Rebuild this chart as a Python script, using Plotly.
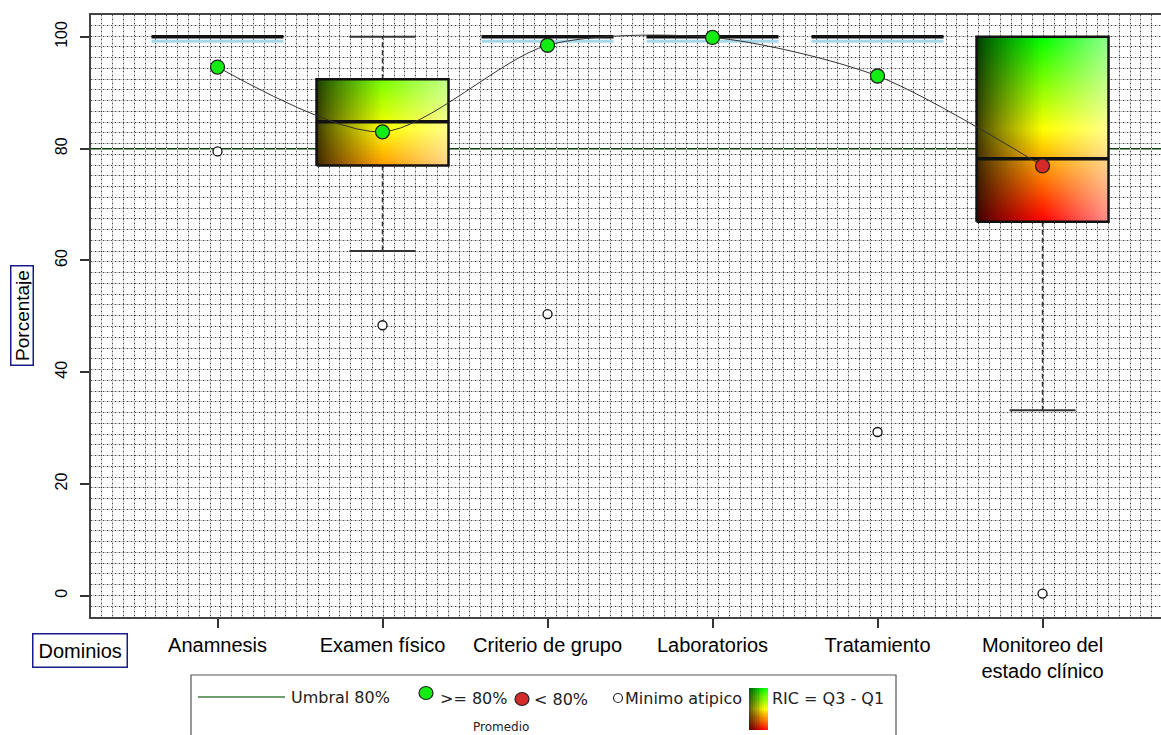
import plotly.graph_objects as go

# ---------------- data ----------------
categories = ["Anamnesis", "Examen físico", "Criterio de grupo",
              "Laboratorios", "Tratamiento", "Monitoreo del<br>estado clínico"]
q1 = [100, 77.0, 100, 100, 100, 66.9]
median = [100, 84.8, 100, 100, 100, 78.2]
q3 = [100, 92.4, 100, 100, 100, 100]
whisker_low = [100, 61.7, 100, 100, 100, 33.2]
whisker_high = [100, 100, 100, 100, 100, 100]
means = [94.6, 83.0, 98.5, 99.9, 93.0, 76.9]
outliers = [79.5, 48.4, 50.4, None, 29.3, 0.4]
threshold = 80
y_ticks = [0, 20, 40, 60, 80, 100]

# ---------------- layout helpers ----------------
W, H = 1161, 735
def px(x):
    return x / W
def py(y):
    return 1 - y / H

X_RANGE = [0.2333, 6.718]
Y_RANGE = [-3.8, 104.0]
xs = list(range(1, len(categories) + 1))
BOX_W = 0.8
CAP_W = 0.4
FONT = "Liberation Sans, Arial, sans-serif"
LFONT = "DejaVu Sans, Verdana, sans-serif"


def ramp(v):
    t = (v - 67.0) / 33.0
    t = max(0.0, min(1.0, t))
    if t < 0.5:
        return [255.0, 255.0 * t / 0.5, 0.0]
    return [255.0 * (1 - t) / 0.5, 255.0, 0.0]


def grad_color(v, s):
    c = ramp(v)
    if s < 0.5:
        f = 0.22 + 0.78 * (s / 0.5) ** 0.8
        c = [ch * f for ch in c]
    else:
        w = (s - 0.5) / 0.5 * 0.55
        c = [ch + (255 - ch) * w for ch in c]
    return [int(round(ch)) for ch in c]


fig = go.Figure()

# gradient boxes (IQR)
for i, x in enumerate(xs):
    if q3[i] > q1[i]:
        ncol = 66
        nrow = max(10, int((q3[i] - q1[i]) * 2.8))
        dx = BOX_W / ncol
        dy = (q3[i] - q1[i]) / nrow
        z = []
        for r in range(nrow):
            v = q1[i] + (r + 0.5) * dy
            z.append([grad_color(v, (c + 0.5) / ncol) for c in range(ncol)])
        fig.add_trace(go.Image(z=z, x0=x - BOX_W / 2 + dx / 2, dx=dx,
                               y0=q1[i] + dy / 2, dy=dy, hoverinfo="skip"))

# whiskers (dashed) and caps
wx, wy, cx, cy = [], [], [], []
for i, x in enumerate(xs):
    if whisker_high[i] > q3[i]:
        wx += [x, x, None]; wy += [q3[i], whisker_high[i], None]
        cx += [x - CAP_W / 2, x + CAP_W / 2, None]; cy += [whisker_high[i], whisker_high[i], None]
    if whisker_low[i] < q1[i]:
        wx += [x, x, None]; wy += [q1[i], whisker_low[i], None]
        cx += [x - CAP_W / 2, x + CAP_W / 2, None]; cy += [whisker_low[i], whisker_low[i], None]
fig.add_trace(go.Scatter(x=wx, y=wy, mode="lines", hoverinfo="skip",
                         line=dict(color="#333333", width=1.5, dash="5px,3px")))
fig.add_trace(go.Scatter(x=cx, y=cy, mode="lines", hoverinfo="skip",
                         line=dict(color="#333333", width=2)))

# box outlines
bx, by = [], []
for i, x in enumerate(xs):
    if q3[i] > q1[i]:
        l, r = x - BOX_W / 2, x + BOX_W / 2
        bx += [l, r, r, l, l, None]; by += [q1[i], q1[i], q3[i], q3[i], q1[i], None]
fig.add_trace(go.Scatter(x=bx, y=by, mode="lines", hoverinfo="skip",
                         line=dict(color="#111111", width=2.5)))

# flat boxes: light blue under-line
fx, fy = [], []
for i, x in enumerate(xs):
    if q3[i] == q1[i]:
        fx += [x - BOX_W / 2, x + BOX_W / 2, None]; fy += [q1[i] - 0.8, q1[i] - 0.8, None]
fig.add_trace(go.Scatter(x=fx, y=fy, mode="lines", hoverinfo="skip",
                         line=dict(color="#a6d8ea", width=3)))

# medians
mx, my = [], []
for i, x in enumerate(xs):
    mx += [x - BOX_W / 2, x + BOX_W / 2, None]; my += [median[i], median[i], None]
fig.add_trace(go.Scatter(x=mx, y=my, mode="lines", hoverinfo="skip",
                         line=dict(color="#111111", width=3.5)))

# mean curve
fig.add_trace(go.Scatter(x=xs, y=means, mode="lines", hoverinfo="skip",
                         line=dict(color="#333333", width=1, shape="spline", smoothing=0.8)))

# mean markers
colors = ["#12ee12" if m >= threshold else "#d42a2a" for m in means]
fig.add_trace(go.Scatter(x=xs, y=means, mode="markers", hoverinfo="skip",
                         marker=dict(size=14, color=colors, line=dict(color="#222222", width=1.3))))

# outliers
ox = [x for x, o in zip(xs, outliers) if o is not None]
oy = [o for o in outliers if o is not None]
fig.add_trace(go.Scatter(x=ox, y=oy, mode="markers", hoverinfo="skip",
                         marker=dict(size=9, color="white", line=dict(color="#111111", width=1.3))))

# grid layers (overlay axes)
fig.add_trace(go.Scatter(x=[], y=[], xaxis="x3", yaxis="y3", showlegend=False))
fig.add_trace(go.Scatter(x=[], y=[], xaxis="x4", yaxis="y4", showlegend=False))

# legend gradient swatch
nr, nc = 40, 10
lz = []
for r in range(nr):
    v = 67 + (r + 0.5) / nr * 33
    lz.append([grad_color(v, 0.05 + 0.55 * (c + 0.5) / nc) for c in range(nc)])
fig.add_trace(go.Image(z=lz, x0=0.5 / nc, dx=1.0 / nc, y0=0.5 / nr, dy=1.0 / nr,
                       xaxis="x2", yaxis="y2", hoverinfo="skip"))

# threshold line (under the boxes)
shapes = [dict(type="line", xref="x domain", yref="y", x0=0, x1=1, y0=threshold, y1=threshold,
               line=dict(color="#0a3f0a", width=1.5), layer="below")]

# legend box and symbols
shapes += [
    dict(type="rect", xref="paper", yref="paper", x0=px(191), x1=px(896), y0=py(675), y1=py(760),
         line=dict(color="#555555", width=1.2), fillcolor="rgba(0,0,0,0)"),
    dict(type="line", xref="paper", yref="paper", x0=px(198), x1=px(285), y0=py(697), y1=py(697),
         line=dict(color="#3f7f3f", width=1.5)),
    dict(type="circle", xref="paper", yref="paper", x0=px(419), x1=px(433), y0=py(699.5), y1=py(686.5),
         fillcolor="#12ee12", line=dict(color="#222222", width=1.2)),
    dict(type="circle", xref="paper", yref="paper", x0=px(515), x1=px(529), y0=py(705.5), y1=py(692.5),
         fillcolor="#d42a2a", line=dict(color="#222222", width=1.2)),
    dict(type="circle", xref="paper", yref="paper", x0=px(613.5), x1=px(622.5), y0=py(702.5), y1=py(693.5),
         fillcolor="white", line=dict(color="#222222", width=1.2)),
]

annotations = [
    dict(text="Umbral 80%", x=px(289), y=py(697)),
    dict(text=">= 80%", x=px(438), y=py(698)),
    dict(text="< 80%", x=px(532), y=py(699)),
    dict(text="Minimo atipico", x=px(623), y=py(698)),
    dict(text="RIC = Q3 - Q1", x=px(770), y=py(698)),
]
for a in annotations:
    a.update(xref="paper", yref="paper", xanchor="left", yanchor="middle", showarrow=False,
             font=dict(family=LFONT, size=16, color="#222222"))
annotations.append(dict(text="Promedio", x=px(501), y=py(727), xref="paper", yref="paper",
                        xanchor="center", yanchor="middle", showarrow=False,
                        font=dict(family=LFONT, size=12, color="#222222")))
annotations.append(dict(text="Dominios", x=px(79.5), y=py(650), xref="paper", yref="paper",
                        xanchor="center", yanchor="middle", showarrow=False,
                        font=dict(family=FONT, size=20, color="black"),
                        bordercolor="#1a1a8c", borderwidth=1.5, borderpad=5))
annotations.append(dict(text="Porcentaje", x=px(21.5), y=py(315.5), xref="paper", yref="paper",
                        xanchor="center", yanchor="middle", showarrow=False, textangle=-90,
                        font=dict(family=FONT, size=19, color="black"),
                        width=96, height=19,
                        bordercolor="#1a1a8c", borderwidth=1.5, borderpad=1))

x_dom = [px(91), 1.0]
y_dom = [py(617), py(14.5)]
grid_dx = 0.0656
grid_dy = (Y_RANGE[1] - Y_RANGE[0]) / 56

fig.update_layout(
    width=W, height=H, margin=dict(l=0, r=0, t=0, b=0),
    paper_bgcolor="white", plot_bgcolor="white", showlegend=False, hovermode=False,
    shapes=shapes, annotations=annotations,
    xaxis=dict(domain=x_dom, range=X_RANGE, anchor="y", tickmode="array", tickvals=xs,
               ticktext=categories, ticks="outside", ticklen=9, tickwidth=1.5, tickcolor="#333333",
               showline=True, mirror=True, linecolor="#444444", linewidth=2,
               showgrid=False, zeroline=False, scaleanchor=False,
               tickfont=dict(family=FONT, size=20, color="black")),
    yaxis=dict(domain=y_dom, range=Y_RANGE, anchor="x", tickmode="array", tickvals=y_ticks,
               tickangle=-90, ticks="outside", ticklen=9, tickwidth=1.5, tickcolor="#333333",
               ticklabelstandoff=7,
               showline=True, mirror=False, linecolor="#444444", linewidth=2,
               showgrid=False, zeroline=False, scaleanchor=False,
               tickfont=dict(family=FONT, size=16, color="black")),
    xaxis2=dict(domain=[px(749), px(768)], range=[0, 1], anchor="y2", visible=False, scaleanchor=False),
    yaxis2=dict(domain=[py(730), py(688)], range=[0, 1], anchor="x2", visible=False, scaleanchor=False),
    xaxis3=dict(overlaying="x", anchor="y3", range=X_RANGE, tickmode="linear", tick0=X_RANGE[0],
                dtick=grid_dx, showgrid=True, gridcolor="#c6c6c6", gridwidth=1, showticklabels=False,
                ticks="", showline=False, zeroline=False),
    yaxis3=dict(overlaying="y", anchor="x3", range=Y_RANGE, tickmode="linear", tick0=Y_RANGE[0],
                dtick=grid_dy, showgrid=True, gridcolor="#c6c6c6", gridwidth=1, showticklabels=False,
                ticks="", showline=False, zeroline=False),
    xaxis4=dict(overlaying="x", anchor="y4", range=X_RANGE, tickmode="linear", tick0=X_RANGE[0],
                dtick=grid_dx, showgrid=True, gridcolor="#4a4a4a", gridwidth=1, griddash="1px,3px",
                showticklabels=False, ticks="", showline=False, zeroline=False),
    yaxis4=dict(overlaying="y", anchor="x4", range=Y_RANGE, tickmode="linear", tick0=Y_RANGE[0],
                dtick=grid_dy, showgrid=True, gridcolor="#4a4a4a", gridwidth=1, griddash="1px,3px",
                showticklabels=False, ticks="", showline=False, zeroline=False),
)

fig.write_html("out.html", config={"displayModeBar": False},
               post_script="document.body.style.margin='0';document.body.style.overflow='hidden';")
